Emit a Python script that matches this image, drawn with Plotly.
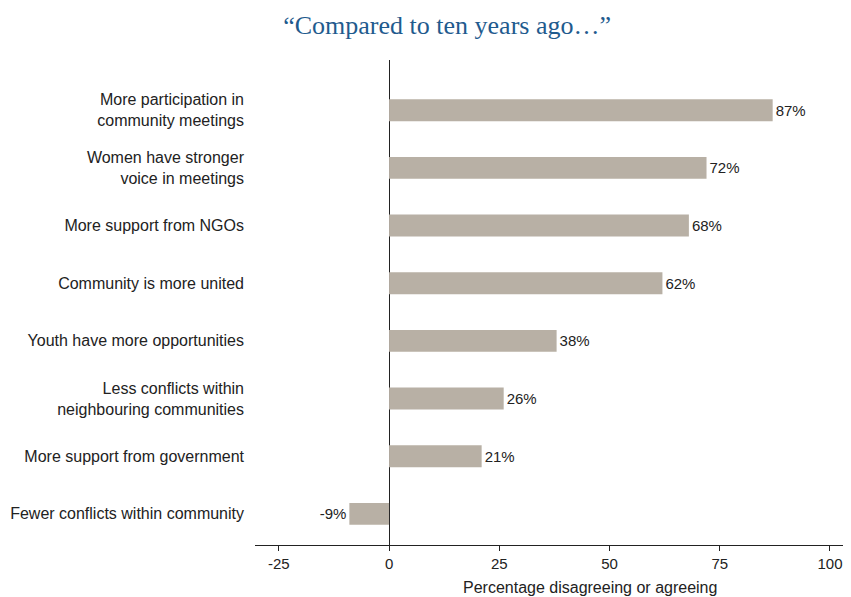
import plotly.graph_objects as go

categories = [
    "More participation in<br>community meetings",
    "Women have stronger<br>voice in meetings",
    "More support from NGOs",
    "Community is more united",
    "Youth have more opportunities",
    "Less conflicts within<br>neighbouring communities",
    "More support from government",
    "Fewer conflicts within community",
]
values = [87, 72, 68, 62, 38, 26, 21, -9]
value_labels = [f"{v}%" for v in values]
x_ticks = [-25, 0, 25, 50, 75, 100]
x_title = "Percentage disagreeing or agreeing"

fig = go.Figure(
    go.Bar(
        x=values,
        y=categories,
        orientation="h",
        marker=dict(color="#b8b0a5", line=dict(width=0)),
        width=0.38,
        text=value_labels,
        textposition="outside",
        textfont=dict(family="Liberation Sans, Arial, sans-serif", size=15, color="#222222"),
        cliponaxis=False,
    )
)

fig.update_layout(
    width=851,
    height=597,
    paper_bgcolor="white",
    plot_bgcolor="white",
    margin=dict(l=247, r=16, t=52, b=60),
    showlegend=False,
    title=dict(
        text="\u201cCompared to ten years ago\u2026\u201d",
        x=0.516,
        xanchor="center",
        yref="container",
        y=0.9715,
        yanchor="middle",
        font=dict(family="Liberation Serif, Times New Roman, serif", size=26, color="#1f5b8e"),
    ),
    font=dict(family="Liberation Sans, Arial, sans-serif", size=16, color="#222222"),
    annotations=[
        dict(
            text=x_title,
            xref="paper",
            yref="paper",
            x=0.5697,
            y=-0.0866,
            xanchor="center",
            yanchor="middle",
            showarrow=False,
            font=dict(family="Liberation Sans, Arial, sans-serif", size=16, color="#222222"),
        )
    ],
)

fig.update_xaxes(
    automargin=False,
    range=[-30.4, 102.95],
    tickvals=x_ticks,
    ticktext=[str(t) for t in x_ticks],
    showgrid=False,
    zeroline=True,
    zerolinecolor="#222222",
    zerolinewidth=1,
    showline=True,
    linecolor="#222222",
    linewidth=1,
    ticks="outside",
    ticklen=5,
    tickcolor="#222222",
    tickfont=dict(size=15, color="#222222"),
)

fig.update_yaxes(
    automargin=False,
    range=[7.54, -0.87],
    showgrid=False,
    zeroline=False,
    showline=False,
    ticks="",
    ticklabelstandoff=10,
    tickfont=dict(size=16, color="#222222"),
)

fig.write_html("out.html")
